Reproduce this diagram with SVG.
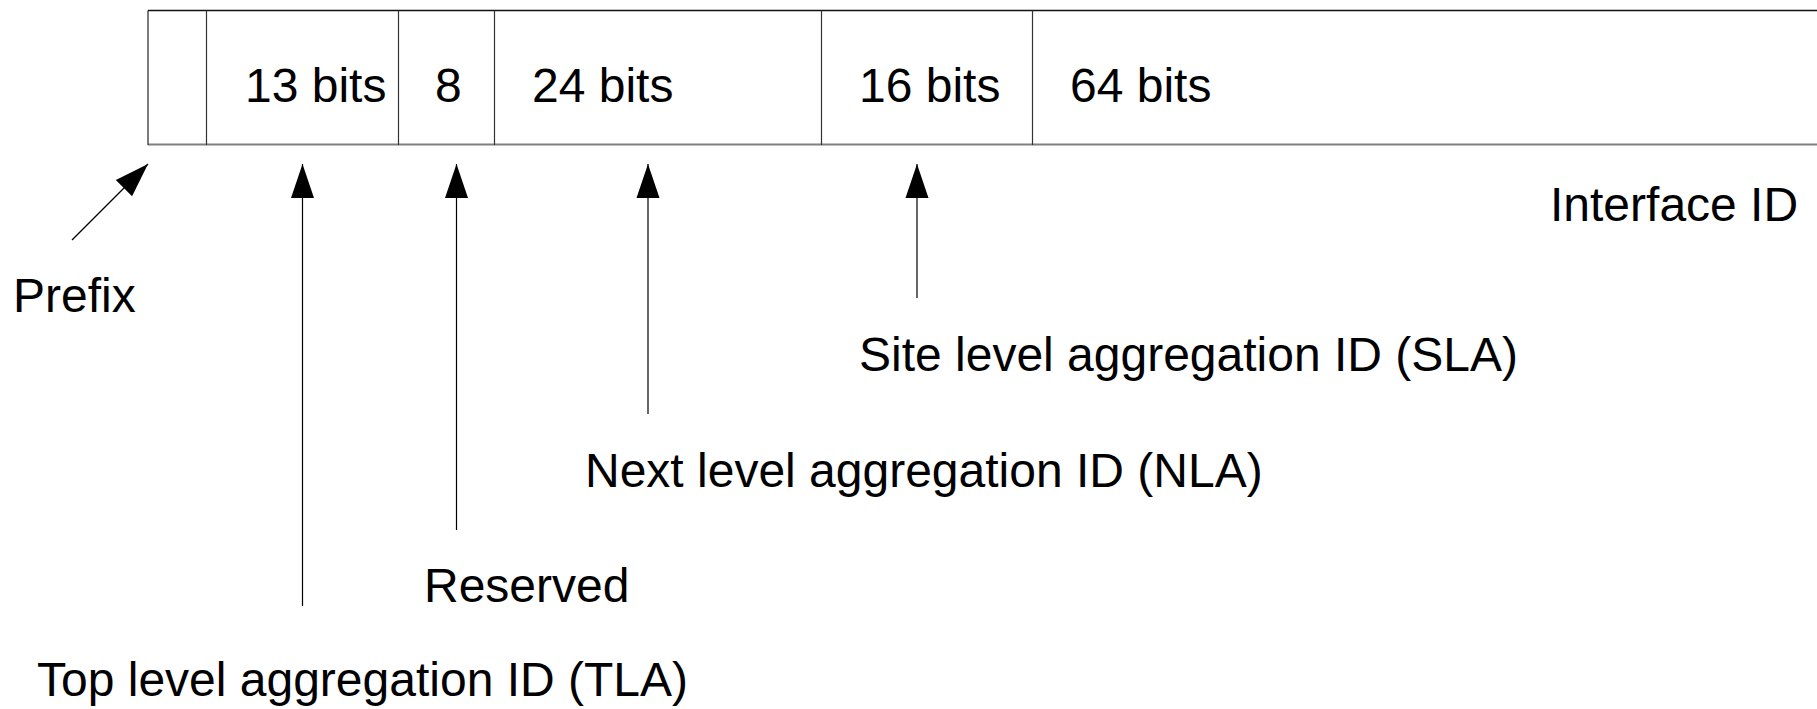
<svg xmlns="http://www.w3.org/2000/svg" width="1817" height="709" viewBox="0 0 1817 709">
<style>
.t{font-family:"Liberation Sans",Arial,sans-serif;font-size:48px;fill:#000}
.div{stroke:#333;stroke-width:1.2}
.c{stroke:#000;stroke-width:1.2;fill:none;marker-end:url(#ah)}
</style>
<defs>
<marker id="ah" markerUnits="userSpaceOnUse" markerWidth="34" markerHeight="24" refX="34" refY="12" orient="auto" overflow="visible">
<path d="M0,0.5 L34,12 L0,23.5 Z" fill="#000"/>
</marker>
</defs>
<rect width="1817" height="709" fill="#fff"/>
<g id="address-bar">
<line x1="148" y1="10.5" x2="1817" y2="10.5" stroke="#111" stroke-width="1.3"/>
<line x1="148" y1="144.5" x2="1817" y2="144.5" stroke="#808080" stroke-width="2"/>
<line x1="148" y1="10.5" x2="148" y2="145" stroke="#333" stroke-width="1.3"/>
</g>
<g id="cell-prefix"><line class="div" x1="206.5" y1="10.5" x2="206.5" y2="145"/></g>
<g id="cell-tla"><text class="t" x="245" y="102">13 bits</text><line class="div" x1="398.5" y1="10.5" x2="398.5" y2="145"/></g>
<g id="cell-res"><text class="t" x="435" y="102">8</text><line class="div" x1="494.5" y1="10.5" x2="494.5" y2="145"/></g>
<g id="cell-nla"><text class="t" x="532" y="102">24 bits</text><line class="div" x1="821.5" y1="10.5" x2="821.5" y2="145"/></g>
<g id="cell-sla"><text class="t" x="859" y="102">16 bits</text><line class="div" x1="1032.5" y1="10.5" x2="1032.5" y2="145"/></g>
<g id="cell-iface"><text class="t" x="1070" y="102">64 bits</text></g>
<g id="label-iface"><text class="t" x="1550" y="221">Interface ID</text></g>
<g id="label-prefix"><text class="t" x="13" y="312">Prefix</text></g>
<g id="label-sla"><text class="t" x="859" y="371">Site level aggregation ID (SLA)</text></g>
<g id="label-nla"><text class="t" x="585" y="487">Next level aggregation ID (NLA)</text></g>
<g id="label-res"><text class="t" x="424" y="602">Reserved</text></g>
<g id="label-tla"><text class="t" x="37" y="696">Top level aggregation ID (TLA)</text></g>
<g id="connectors">
<line class="c" x1="72" y1="240" x2="148" y2="164"/>
<line class="c" x1="302.5" y1="606" x2="302.5" y2="164"/>
<line class="c" x1="456.5" y1="530" x2="456.5" y2="164"/>
<line class="c" x1="648" y1="414" x2="648" y2="164"/>
<line class="c" x1="917" y1="298" x2="917" y2="164"/>
</g>
</svg>
